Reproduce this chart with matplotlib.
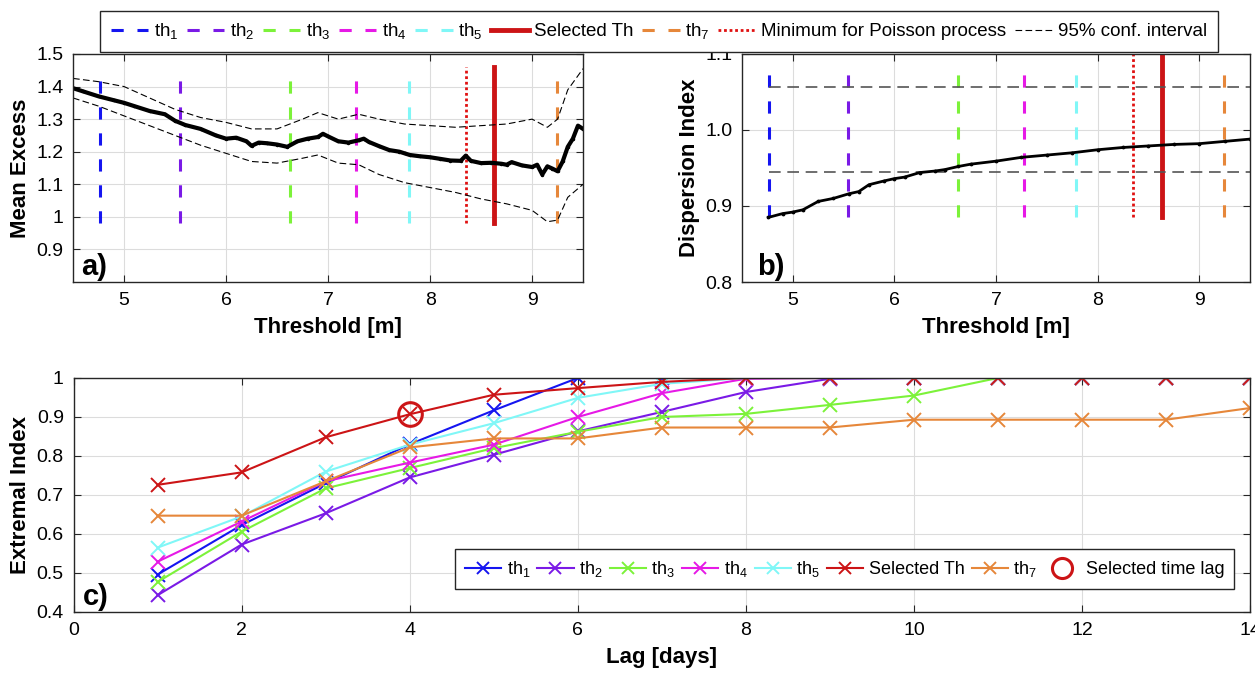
import matplotlib
matplotlib.use('Agg')
import matplotlib.pyplot as plt

plt.rcParams['font.family'] = ['Liberation Sans', 'DejaVu Sans']
plt.rcParams['mathtext.fontset'] = 'custom'
plt.rcParams['mathtext.rm'] = 'Liberation Sans'
plt.rcParams['mathtext.it'] = 'Liberation Sans:italic'
plt.rcParams['mathtext.bf'] = 'Liberation Sans:bold'

# ---- thresholds ----
th_names = ['th$_1$', 'th$_2$', 'th$_3$', 'th$_4$', 'th$_5$', 'Selected Th', 'th$_7$']
th_values = [4.763, 5.547, 6.63, 7.272, 7.792, 8.63, 9.249]
th_colors = ['#1515f0', '#7a1ae6', '#7cf23a', '#e619e6', '#80f7f7', '#cc1416', '#e6873a']
poisson_min = 8.353

# ---- a) mean excess ----
me_x = [4.5, 4.6, 4.75, 4.9, 5.0, 5.1, 5.25, 5.4, 5.5, 5.6, 5.75, 5.9, 6.0, 6.1, 6.2, 6.25,
        6.32, 6.4, 6.5, 6.6, 6.7, 6.8, 6.9, 6.95, 7.0, 7.1, 7.2, 7.3, 7.35, 7.4, 7.5, 7.6,
        7.7, 7.75, 7.8, 7.9, 8.0, 8.1, 8.2, 8.3, 8.35, 8.4, 8.5, 8.6, 8.7, 8.75, 8.8, 8.9,
        9.0, 9.05, 9.1, 9.15, 9.2, 9.25, 9.3, 9.35, 9.4, 9.45, 9.5]
me_y = [1.395, 1.385, 1.37, 1.358, 1.35, 1.34, 1.325, 1.315, 1.295, 1.282, 1.27, 1.25, 1.24,
        1.243, 1.232, 1.218, 1.228, 1.226, 1.222, 1.215, 1.232, 1.24, 1.245, 1.255, 1.247,
        1.232, 1.228, 1.235, 1.24, 1.23, 1.217, 1.205, 1.2, 1.195, 1.19, 1.186, 1.183,
        1.178, 1.173, 1.172, 1.188, 1.172, 1.165, 1.166, 1.163, 1.16, 1.168, 1.158, 1.153,
        1.16, 1.13, 1.155, 1.148, 1.14, 1.17, 1.215, 1.24, 1.28, 1.27]
ci_x = [4.5, 4.75, 5.0, 5.25, 5.5, 5.75, 6.0, 6.25, 6.5, 6.75, 6.9, 7.1, 7.3, 7.5, 7.75,
        8.0, 8.25, 8.5, 8.75, 9.0, 9.15, 9.25, 9.35, 9.5]
ci_hi = [1.425, 1.415, 1.4, 1.365, 1.33, 1.305, 1.29, 1.27, 1.27, 1.3, 1.32, 1.3, 1.315,
         1.3, 1.285, 1.28, 1.275, 1.28, 1.285, 1.3, 1.275, 1.3, 1.39, 1.455]
ci_lo = [1.365, 1.34, 1.31, 1.28, 1.25, 1.22, 1.195, 1.17, 1.165, 1.18, 1.19, 1.165, 1.16,
         1.13, 1.105, 1.09, 1.075, 1.055, 1.04, 1.02, 0.985, 0.99, 1.06, 1.10]
a_span = [0.98, 1.452]
a_top = 1.46

# ---- b) dispersion index ----
di_x = [4.76, 4.9, 5.0, 5.1, 5.25, 5.4, 5.55, 5.65, 5.75, 5.9, 6.0, 6.1, 6.25, 6.4, 6.5,
        6.63, 6.75, 7.0, 7.25, 7.5, 7.75, 8.0, 8.25, 8.5, 8.75, 9.0, 9.25, 9.5]
di_y = [0.885, 0.89, 0.892, 0.895, 0.906, 0.91, 0.916, 0.919, 0.928, 0.933, 0.936, 0.938,
        0.944, 0.946, 0.948, 0.952, 0.955, 0.959, 0.964, 0.967, 0.970, 0.974, 0.977, 0.979,
        0.981, 0.982, 0.985, 0.988]
di_conf = [0.945, 1.056]
b_span = [0.886, 1.09]
b_top = 1.1

# ---- c) extremal index ----
lags = [1, 2, 3, 4, 5, 6, 7, 8, 9, 10, 11, 12, 13, 14]
ei_th1 = [0.496, 0.623, 0.73, 0.83, 0.917, 1.0, 1.0, 1.0, 1.0, 1.0, 1.0, 1.0, 1.0, 1.0]
ei_th2 = [0.443, 0.573, 0.653, 0.745, 0.803, 0.863, 0.913, 0.964, 0.998, 1.0, 1.0, 1.0, 1.0, 1.0]
ei_th3 = [0.477, 0.606, 0.717, 0.769, 0.82, 0.862, 0.90, 0.908, 0.931, 0.955, 1.0, 1.0, 1.0, 1.0]
ei_th4 = [0.529, 0.632, 0.735, 0.783, 0.829, 0.90, 0.961, 0.998, 1.0, 1.0, 1.0, 1.0, 1.0, 1.0]
ei_th5 = [0.565, 0.645, 0.76, 0.829, 0.884, 0.949, 0.985, 1.0, 1.0, 1.0, 1.0, 1.0, 1.0, 1.0]
ei_sel = [0.726, 0.758, 0.848, 0.907, 0.957, 0.974, 0.99, 1.0, 1.0, 1.0, 1.0, 1.0, 1.0, 1.0]
ei_th7 = [0.647, 0.647, 0.735, 0.822, 0.845, 0.845, 0.873, 0.873, 0.873, 0.893, 0.893, 0.893, 0.893, 0.923]
sel_lag = 4
sel_ei = 0.907

fig = plt.figure(figsize=(12.55, 6.74), dpi=100)
ax_a = fig.add_axes([0.0582, 0.5816, 0.4064, 0.3383])
ax_b = fig.add_axes([0.5912, 0.5816, 0.4048, 0.3383])
ax_c = fig.add_axes([0.0586, 0.092, 0.9375, 0.3472])


def style(ax):
    ax.grid(True, color='#dcdcdc', lw=0.8)
    ax.set_axisbelow(True)
    ax.tick_params(direction='in', top=True, right=True, labelsize=14, length=5,
                   color='#262626', pad=7)
    for s in ax.spines.values():
        s.set_color('#262626')
        s.set_linewidth(1.0)


def draw_thresholds(ax, span, top):
    handles = []
    for name, val, col in zip(th_names, th_values, th_colors):
        if name == 'Selected Th':
            h, = ax.plot([val, val], [span[0], top], color=col, lw=3.5, label=name)
        else:
            h, = ax.plot([val, val], span, color=col, lw=2.2, ls=(0, (4, 4.5)), label=name)
        handles.append(h)
    h, = ax.plot([poisson_min, poisson_min], [span[0], top], color='#e01010', lw=2.0,
                 ls=(0, (1, 1)), label='Minimum for Poisson process')
    handles.append(h)
    return handles


# a)
style(ax_a)
th_handles = draw_thresholds(ax_a, a_span, a_top)
ax_a.plot(me_x, me_y, color='black', lw=3, marker='.', ms=3)
ci_h, = ax_a.plot(ci_x, ci_hi, color='black', lw=0.8, ls=(0, (6, 3)), label='95% conf. interval')
ax_a.plot(ci_x, ci_lo, color='black', lw=0.8, ls=(0, (6, 3)))
ax_a.set_xlim(4.5, 9.5)
ax_a.set_ylim(0.8, 1.5)
ax_a.set_xticks([5, 6, 7, 8, 9])
ax_a.set_yticks([0.9, 1.0, 1.1, 1.2, 1.3, 1.4, 1.5])
ax_a.set_yticklabels(['0.9', '1', '1.1', '1.2', '1.3', '1.4', '1.5'])
ax_a.set_xlabel('Threshold [m]', fontsize=16, fontweight='bold', labelpad=6)
ax_a.set_ylabel('Mean Excess', fontsize=16, fontweight='bold', labelpad=4)
ax_a.text(0.015, 0.03, 'a)', transform=ax_a.transAxes, fontsize=21, fontweight='bold')

# b)
style(ax_b)
draw_thresholds(ax_b, b_span, b_top)
for c in di_conf:
    ax_b.plot([th_values[0], 9.5], [c, c], color='#555555', lw=1.2, ls=(0, (7, 4)))
ax_b.plot(di_x, di_y, color='black', lw=2, marker='.', ms=3.5)
ax_b.set_xlim(4.5, 9.5)
ax_b.set_ylim(0.8, 1.1)
ax_b.set_xticks([5, 6, 7, 8, 9])
ax_b.set_yticks([0.8, 0.9, 1.0, 1.1])
ax_b.set_yticklabels(['0.8', '0.9', '1.0', '1.1'])
ax_b.set_xlabel('Threshold [m]', fontsize=16, fontweight='bold', labelpad=6)
ax_b.set_ylabel('Dispersion Index', fontsize=16, fontweight='bold', labelpad=4)
ax_b.text(0.03, 0.03, 'b)', transform=ax_b.transAxes, fontsize=21, fontweight='bold')

# top legend
top_handles = th_handles[:7] + [th_handles[7], ci_h]
top_labels = th_names + ['Minimum for Poisson process', '95% conf. interval']
fig.legend(top_handles, top_labels, loc='center', bbox_to_anchor=(0.525, 0.9533), ncol=9,
           fontsize=13.5, frameon=True, fancybox=False, edgecolor='#262626', framealpha=1,
           handlelength=2.0, handletextpad=0.3, columnspacing=0.45, borderpad=0.55,
           borderaxespad=0)

# c)
style(ax_c)
series = [ei_th1, ei_th2, ei_th3, ei_th4, ei_th5, ei_sel, ei_th7]
c_handles = []
for name, vals, col in zip(th_names, series, th_colors):
    h, = ax_c.plot(lags, vals, color=col, lw=1.5, marker='x', ms=10, mew=1.4, label=name)
    c_handles.append(h)
circ, = ax_c.plot([sel_lag], [sel_ei], 'o', mfc='none', mec='#cc1416', ms=17, mew=2.2,
                  ls='none', label='Selected time lag')
c_handles.append(circ)
ax_c.set_xlim(0, 14)
ax_c.set_ylim(0.4, 1.0)
ax_c.set_xticks(range(0, 15, 2))
ax_c.set_yticks([0.4, 0.5, 0.6, 0.7, 0.8, 0.9, 1.0])
ax_c.set_yticklabels(['0.4', '0.5', '0.6', '0.7', '0.8', '0.9', '1'])
ax_c.set_xlabel('Lag [days]', fontsize=16, fontweight='bold', labelpad=6)
ax_c.set_ylabel('Extremal Index', fontsize=16, fontweight='bold', labelpad=4)
ax_c.text(0.008, 0.03, 'c)', transform=ax_c.transAxes, fontsize=21, fontweight='bold')
ax_c.legend(handles=c_handles, loc='center', bbox_to_anchor=(0.673, 0.1558),
            bbox_transform=fig.transFigure, ncol=8, fontsize=13, frameon=True, fancybox=False,
            edgecolor='#262626', framealpha=1, handlelength=2.0, handletextpad=0.3,
            columnspacing=0.4, borderpad=0.55, borderaxespad=0, markerscale=0.85)

fig.savefig('out.png', dpi=100)
